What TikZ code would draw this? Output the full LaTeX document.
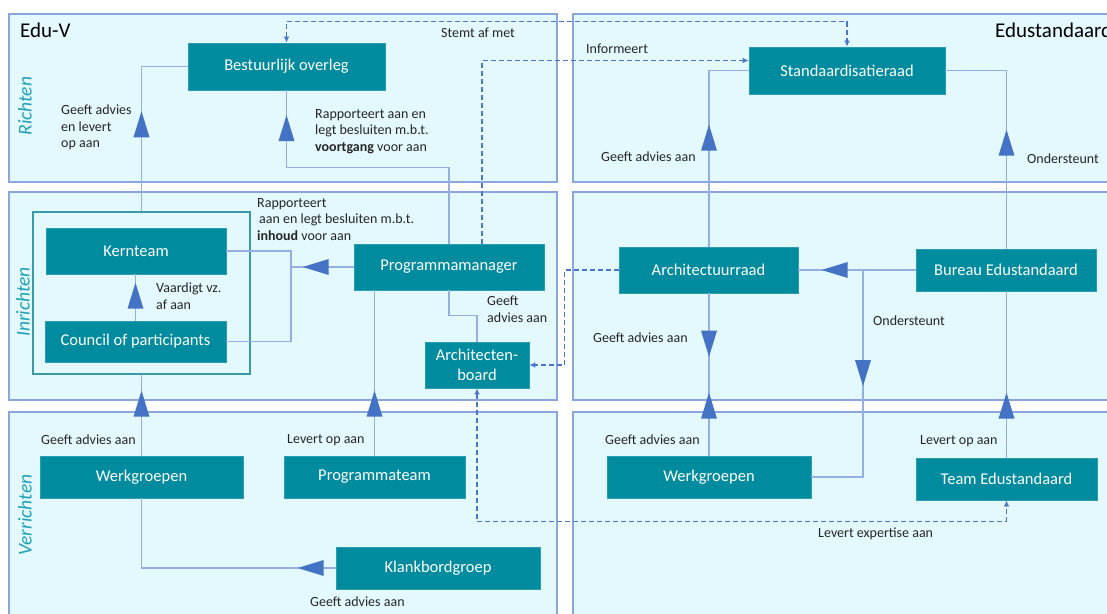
\documentclass[tikz,border=0pt]{standalone}
\usepackage{fontspec}
\setmainfont{Carlito}
\usetikzlibrary{arrows.meta,decorations.markings,calc}
\definecolor{panelf}{HTML}{E3F9FD}
\definecolor{panelb}{HTML}{8AA6DC}
\definecolor{boxf}{HTML}{008B9E}
\definecolor{boxb}{HTML}{2A9DB0}
\definecolor{contb}{HTML}{3A9BA6}
\definecolor{linec}{HTML}{95B0E0}
\definecolor{trif}{HTML}{4472C4}
\definecolor{dashc}{HTML}{4A76C8}
\definecolor{laneT}{HTML}{1FA2B7}
\definecolor{labc}{HTML}{262626}
\newcommand\bxfont{\fontsize{16.5}{20}\selectfont}
\newcommand\lbfont{\fontsize{14}{16.5}\selectfont}
\tikzset{
  panel/.style={draw=panelb, fill=panelf, line width=1.2pt},
  cont/.style={draw=contb, fill=panelf, line width=1.4pt, inner sep=0pt},
  box/.style={draw=boxb, fill=boxf, text=white, font=\bxfont, inner sep=0pt, line width=0.6pt, align=center},
  conn/.style={draw=linec, line width=1.3pt},
  dconn/.style={draw=dashc, line width=1.2pt, dash pattern=on 5pt off 3pt},
  dtip/.tip={Latex[length=6pt,width=5.5pt]},
  fw/.style={postaction={decorate,decoration={markings,mark=at position #1 with {\fill[trif] (0pt,0pt) -- (-26pt,8pt) -- (-26pt,-8pt) -- cycle;}}}},
  bw/.style={postaction={decorate,decoration={markings,mark=at position #1 with {\fill[trif] (0pt,0pt) -- (26pt,8pt) -- (26pt,-8pt) -- cycle;}}}},
  lab/.style={font=\lbfont, text=labc, inner sep=0pt, anchor=west},
  mlab/.style={font=\lbfont, text=labc, inner sep=0pt, anchor=north west, align=left},
  lane/.style={font=\fontsize{19.5}{22}\selectfont\itshape, text=laneT, rotate=90, inner sep=0pt},
  ttl/.style={font=\fontsize{21}{24}\selectfont, text=black, inner sep=0pt, anchor=west}
}
\begin{document}
\begin{tikzpicture}[x=1pt,y=-1pt]
\useasboundingbox (0,0) rectangle (1107,613);
\clip (0,0) rectangle (1107,613);
\fill[white] (0,0) rectangle (1107,613);
% panels
\path[panel] (9,14) rectangle (557,182);
\path[panel] (573,14) rectangle (1125,182);
\path[panel] (9,192) rectangle (557,400);
\path[panel] (573,192) rectangle (1125,400);
\path[panel] (9,412) rectangle (557,630);
\path[panel] (573,412) rectangle (1125,630);
% titles and lanes
\node[ttl] (tEduV) at (20,30) {Edu-V};
\node[ttl] (tEdu) at (995,30) {Edustandaard};
\node[lane] (lR) at (25,106) {Richten};
\node[lane] (lI) at (23,302) {Inrichten};
\node[lane] (lV) at (25,515) {Verrichten};
% container
\node[cont, minimum width=217pt, minimum height=162pt] (cont) at (141.5,293) {};
% nodes
\node[box, minimum width=197pt, minimum height=47pt] (bo) at (286.5,66.5) {Bestuurlijk overleg};
\node[box, minimum width=196pt, minimum height=47pt] (st) at (847,70.5) {Standaardisatieraad};
\node[box, minimum width=180pt, minimum height=46pt] (kt) at (136,251) {Kernteam};
\node[box, minimum width=181pt, minimum height=41pt] (cop) at (135.5,341.5) {Council of participants};
\node[box, minimum width=190pt, minimum height=46pt] (pm) at (449,267) {Programmamanager};
\node[box, minimum width=104pt, minimum height=46pt] (ab) at (477,365) {Architecten-\\board};
\node[box, minimum width=179pt, minimum height=46pt] (arch) at (708.5,270) {Architectuurraad};
\node[box, minimum width=180pt, minimum height=42pt] (bu) at (1006,270) {Bureau Edustandaard};
\node[box, minimum width=203pt, minimum height=42pt] (wgL) at (141.5,477) {Werkgroepen};
\node[box, minimum width=181pt, minimum height=42pt] (pt) at (374.5,477) {Programmateam};
\node[box, minimum width=204pt, minimum height=42pt] (kb) at (438,568) {Klankbordgroep};
\node[box, minimum width=204pt, minimum height=42pt] (wgR) at (709,477) {Werkgroepen};
\node[box, minimum width=181pt, minimum height=42pt] (te) at (1006.5,479) {Team Edustandaard};
% solid connectors with triangle markers
\draw[conn, fw=65pt] (wgL.north) -- (wgL.north |- cont.south);
\draw[conn, fw=100pt] (wgL.north |- cont.north) |- (bo.west);
\draw[conn, fw=65pt] (pt.north) -- (pt.north |- pm.south);
\draw[conn, fw=291pt] (pm.north) -- ++(0,-76) -| (bo.south);
\coordinate (j1) at (291,267);
\draw[conn, fw=51pt] (pm.west) -- (j1);
\draw[conn] (kt.east) -| (j1) |- (cop.east);
\draw[conn, fw=38pt] (cop.north) -- (cop.north |- kt.south);
\draw[conn, fw=79.5pt] (ab.north) -- ++(0,-26) -| (pm.south);
\draw[conn, fw=38pt] (kb.west) -| (wgL.south);
\draw[conn, fw=63pt, bw=99pt] (wgR.north) -- (wgR.north |- arch.south);
\draw[conn, fw=122pt] (wgR.north |- arch.north) |- (st.west);
\draw[conn, fw=65pt] (te.north) -- (te.north |- bu.south);
\draw[conn, fw=119pt] (te.north |- bu.north) |- (st.east);
\draw[conn, fw=94pt] (bu.west) -- (bu.west -| arch.east);
\coordinate (j2) at (863,270);
\draw[conn, fw=116pt] (j2) |- (wgR.east);
% dashed connectors
\draw[dconn, dtip-dtip] (bo.north) -- ++(0,-21) -| (st.north);
\draw[dconn, -dtip] ($(pm.north)+(33,0)$) |- ($(st.west)+(0,-10)$);
\draw[dconn, -dtip] (arch.west) -- ++(-54,0) |- (ab.east);
\draw[dconn, dtip-dtip] (ab.south) -- ++(0,133) -| (te.south);
% labels
\node[lab] (l1) at (441,33) {Stemt af met};
\node[lab] (l2) at (586,49) {Informeert};
\node[mlab] (l3) at (61,105) {Geeft advies\\en levert\\op aan};
\node[mlab] (l4) at (315,109) {Rapporteert aan en\\legt besluiten m.b.t.\\\textbf{voortgang} voor aan};
\node[lab] (l5) at (601,157) {Geeft advies aan};
\node[lab] (l6) at (1027,159) {Ondersteunt};
\node[mlab] (l7) at (257,198) {Rapporteert\\\hspace{2pt}aan en legt besluiten m.b.t.\\\textbf{inhoud} voor aan};
\node[mlab] (l8) at (156,283) {Vaardigt vz.\\af aan};
\node[mlab] (l9) at (487,296) {Geeft\\advies aan};
\node[lab] (l10) at (593,338) {Geeft advies aan};
\node[lab] (l11) at (873,321) {Ondersteunt};
\node[lab] (l12) at (41,440) {Geeft advies aan};
\node[lab] (l13) at (287,440) {Levert op aan};
\node[lab] (l14) at (310,602) {Geeft advies aan};
\node[lab] (l15) at (605,440) {Geeft advies aan};
\node[lab] (l16) at (920,441) {Levert op aan};
\node[lab] (l17) at (818,534) {Levert expertise aan};
\end{tikzpicture}
\end{document}
